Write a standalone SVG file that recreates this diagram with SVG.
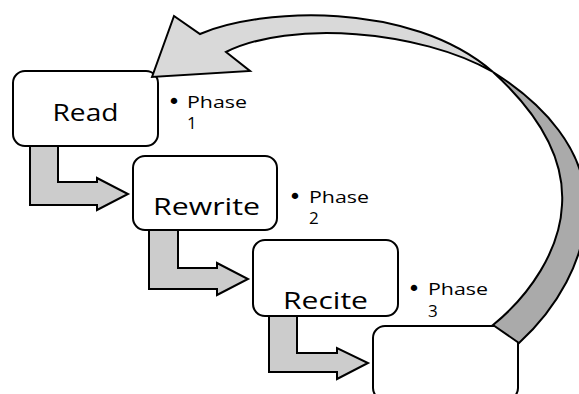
<svg xmlns="http://www.w3.org/2000/svg" width="579" height="394" viewBox="0 0 579 394">
<style>
.box{fill:#fff;stroke:#000;stroke-width:2}
.bent{fill:#cccccc;stroke:#000;stroke-width:2;stroke-linejoin:miter}
.lbl{font-family:"Open Sans","DejaVu Sans",sans-serif;font-size:24px;fill:#000;text-anchor:middle}
.ph{font-family:"Open Sans","DejaVu Sans",sans-serif;font-size:17px;fill:#000}
.bul{font-family:"DejaVu Sans",sans-serif;font-size:22px;fill:#000;text-anchor:middle}
.light{fill:#d9d9d9;stroke:#000;stroke-width:2;stroke-linejoin:miter}
.dark{fill:#aaaaaa;stroke:#000;stroke-width:2;stroke-linejoin:miter}
</style>
<rect width="579" height="394" fill="#fff"/>
<g id="node-read">
<rect class="box" x="13" y="71" width="145" height="75" rx="12"/>
<text class="lbl" x="85.5" y="121" textLength="66" lengthAdjust="spacingAndGlyphs">Read</text>
</g>
<g id="node-rewrite">
<rect class="box" x="133" y="156" width="144" height="74" rx="12"/>
<text class="lbl" x="206.5" y="215" textLength="107" lengthAdjust="spacingAndGlyphs">Rewrite</text>
</g>
<g id="node-recite">
<rect class="box" x="253" y="240" width="145" height="76" rx="12"/>
<text class="lbl" x="325.5" y="309" textLength="85" lengthAdjust="spacingAndGlyphs">Recite</text>
</g>
<g id="node-4">
<rect class="box" x="373" y="326" width="145" height="74" rx="12"/>
</g>
<g id="phase1">
<text class="bul" x="174" y="109">•</text>
<text class="ph" x="187" y="108" textLength="60" lengthAdjust="spacingAndGlyphs">Phase</text>
<text class="ph" x="187" y="129">1</text>
</g>
<g id="phase2">
<text class="bul" x="295" y="204">•</text>
<text class="ph" x="309" y="203" textLength="60" lengthAdjust="spacingAndGlyphs">Phase</text>
<text class="ph" x="309" y="224">2</text>
</g>
<g id="phase3">
<text class="bul" x="414" y="296">•</text>
<text class="ph" x="428" y="295" textLength="60" lengthAdjust="spacingAndGlyphs">Phase</text>
<text class="ph" x="428" y="317">3</text>
</g>
<g id="connectors">
<polygon class="bent" points="30,146 58,146 58,182 97,182 97,178 128,194 97,210 97,205 30,205"/>
<polygon class="bent" points="149,230 178,230 178,268 217,268 217,263 248,279 217,295 217,289 149,289"/>
<polygon class="bent" points="269,316 297,316 297,353 337,353 337,348 368,363 337,379 337,372 269,372"/>
<path class="dark" d="M493,72 C545,105 585,150 586,205 C587,260 555,310 519,343 L493,325 C530,295 560,250 562,205 C565,160 540,115 493,72 Z"/>
<path class="light" d="M152,77 L174,16 L200,34 C260,8 410,0 493,72 C420,30 290,20 226,52 L250,71 Z"/>
</g>
</svg>
